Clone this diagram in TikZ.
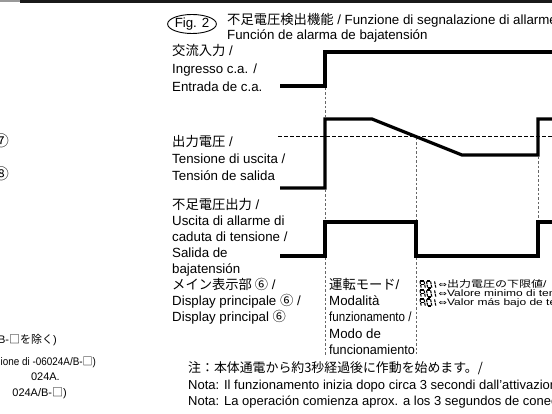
\documentclass[tikz,border=0pt]{standalone}
\usepackage{fontspec}
\usetikzlibrary{shapes.geometric}
\setmainfont{Liberation Sans}
\newfontfamily\jp{Noto Sans CJK JP}
\newfontfamily\dv{DejaVu Sans}
\tikzset{
  wave/.style={line width=3.2pt, line join=miter, line cap=butt},
  guide/.style={line width=0.7pt, black!60, dash pattern=on 2.5pt off 2pt},
  hguide/.style={line width=0.7pt, black, dash pattern=on 3.5pt off 2.5pt},
  t/.style={anchor=base west, inner sep=0pt, font=\fontsize{13.3}{15}\selectfont},
  nt/.style={anchor=base west, inner sep=0pt, font=\fontsize{13}{15}\selectfont},
  fr/.style={inner sep=0pt, font=\fontsize{11}{13}\selectfont},
  small/.style={anchor=base west, inner sep=0pt, font=\fontsize{12}{12}\selectfont},
  seg/.style={line width=1.1pt, line cap=butt},
}
% seven-segment glyph: #1 = origin (base left), #2 = segments list
\newcommand{\sevenseg}[2]{%
  \begin{scope}[shift={#1}, yscale=-1, xslant=0.18]
    \foreach \s in {#2}{%
      \if\s a\draw[seg] (0.6,7) -- (3.9,7);\fi
      \if\s b\draw[seg] (4.3,6.6) -- (4.3,3.8);\fi
      \if\s c\draw[seg] (4.3,3.2) -- (4.3,0.4);\fi
      \if\s d\draw[seg] (0.6,0) -- (3.9,0);\fi
      \if\s e\draw[seg] (0.2,3.2) -- (0.2,0.4);\fi
      \if\s f\draw[seg] (0.2,6.6) -- (0.2,3.8);\fi
      \if\s g\draw[seg] (0.6,3.5) -- (3.9,3.5);\fi
    }
  \end{scope}}
\begin{document}
\begin{tikzpicture}[x=1pt,y=-1pt]
\useasboundingbox (0,0) rectangle (552,414);
\clip (0,0) rectangle (552,414);
\fill[white] (0,0) rectangle (552,414);
% top bar
\fill[black!40] (0,0) rectangle (20,2);
\fill[black!90] (20,0) rectangle (552,3);

% figure caption
\node[draw, ellipse, line width=0.9pt, minimum width=46pt, minimum height=19pt, inner sep=0pt,
      font=\fontsize{13.3}{15}\selectfont] (fig) at (192,24) {Fig. 2};
\node[t] (title1) at (227,25) {{\jp 不足電圧検出機能} / Funzione di segnalazione di allarme};
\node[t] (title2) at (227,39.5) {Función de alarma de bajatensión};

% left fragments (cut by the page edge)
\node[fr, font=\jp\fontsize{15}{15}\selectfont] (c7) at (1.5,141) {⑦};
\node[fr, font=\jp\fontsize{15}{15}\selectfont] (c8) at (1.5,174) {⑧};
\node[fr, anchor=base east] (f1) at (57,343) {/B-{\jp □を除く})};
\node[fr, anchor=base west] (f2) at (0.5,365) {\scalebox{0.9}[1]{ione di -06024A/B-{\jp □})}};
\node[fr, anchor=base east] (f3) at (60,380) {024A.};
\node[fr, anchor=base east] (f4) at (67,396) {024A/B-{\jp □})};

% labels
\node[t] (a1) at (172,56) {{\jp 交流入力} /};
\node[t] (a2) at (172,74) {Ingresso c.a. /};
\node[t] (a3) at (172,92) {Entrada de c.a.};

\node[t] (b1) at (172,147) {{\jp 出力電圧} /};
\node[t] (b2) at (172,164) {Tensione di uscita /};
\node[t] (b3) at (172,181) {Tensión de salida};

\node[t] (d1) at (172,210) {{\jp 不足電圧出力} /};
\node[t] (d2) at (172,226) {Uscita di allarme di};
\node[t] (d3) at (172,242) {caduta di tensione /};
\node[t] (d4) at (172,258) {Salida de};
\node[t] (d5) at (172,274) {bajatensión};

\node[t] (e1) at (172,290) {{\jp メイン表示部 ⑥} /};
\node[t] (e2) at (172,306) {Display principale {\jp ⑥} /};
\node[t] (e3) at (172,322) {Display principal {\jp ⑥}};

% mode box text
\node[t] (m1) at (329,290) {{\jp 運転モード}/};
\node[t] (m2) at (329,306) {Modalità};
\node[t] (m3) at (329,322) {\scalebox{0.87}[1]{funzionamento /}};
\node[t] (m4) at (329,338) {Modo de};
\node[t] (m5) at (329,354) {\scalebox{0.95}[1]{funcionamiento}};

% display value text (seven-segment codes + text)
\sevenseg{(421,288)}{a,b,c,e,f,g}
\sevenseg{(427.5,288)}{a,b,c,d,e,f}
\sevenseg{(431.5,288)}{b,c}
\sevenseg{(421,297)}{a,b,c,e,f,g}
\sevenseg{(427.5,297)}{a,b,c,d,e,f}
\sevenseg{(431.5,297)}{b,c}
\sevenseg{(421,306)}{a,b,c,e,f,g}
\sevenseg{(427.5,306)}{a,b,c,d,e,f}
\sevenseg{(431.5,306)}{b,c}
\node[small] (v1) at (438.5,288) {\scalebox{1}[0.78]{{\dv\fontsize{10}{12}\selectfont ⇔}{\jp 出力電圧の下限値}/}};
\node[small] (v2) at (438.5,297) {\scalebox{1}[0.78]{{\dv\fontsize{10}{12}\selectfont ⇔}Valore minimo di tensione}};
\node[small] (v3) at (438.5,306) {\scalebox{1}[0.78]{{\dv\fontsize{10}{12}\selectfont ⇔}Valor más bajo de tensión}};

% note
\node[nt] (n1) at (188,372) {\jp\fontsize{12.9}{15}\selectfont 注：本体通電から約3秒経過後に作動を始めます。/};
\node[nt] (n2) at (188,389) {Nota: Il funzionamento inizia dopo circa 3 secondi dall’attivazione};
\node[nt] (n3) at (188,405) {Nota: La operación comienza aprox. a los 3 segundos de conectar};

% guides
\draw[hguide] (278,136) -- (552,136);
\draw[guide] (325,88) -- (325,119);
\draw[guide] (325,190) -- (325,222);
\draw[guide] (325,258) -- (325,356);
\draw[guide] (416,138) -- (416,222);
\draw[guide] (416,258) -- (416,354);
\draw[guide] (538,157) -- (538,222);

% waveforms
\draw[wave] (280,86) -- (325,86) -- (325,52) -- (560,52);
\draw[wave] (280,188) -- (325,188) -- (325,119) -- (372,119) -- (462,155) -- (538,155) -- (538,119) -- (560,119);
\draw[wave] (280,256) -- (325,256) -- (325,222) -- (416,222) -- (416,256) -- (538,256) -- (538,222) -- (560,222);
\end{tikzpicture}
\end{document}
